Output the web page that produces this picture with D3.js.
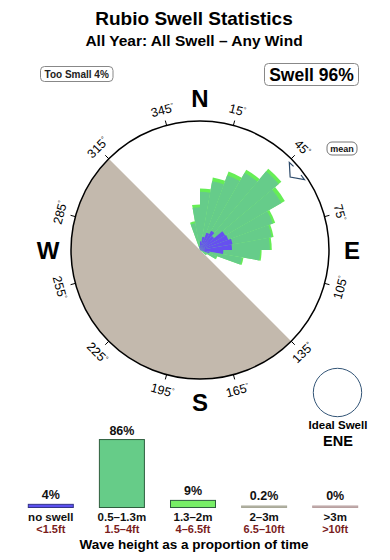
<!DOCTYPE html>
<html><head><meta charset="utf-8">
<script src="https://cdn.jsdelivr.net/npm/d3@7"></script>
<style>body{margin:0;background:#fff}svg{display:block;font-family:"Liberation Sans",Arial,Helvetica,sans-serif}</style>
</head><body><svg id="c" width="390" height="560"></svg>
<script>
// ---------- data ----------
const titleText = "Rubio Swell Statistics";
const subtitleText = "All Year: All Swell – Any Wind";
const tooSmallLabel = "Too Small 4%";
const swellLabel = "Swell 96%";
const compassLetters = ["N", "E", "S", "W"];
const compassAngles = [0, 90, 180, 270];
const tickDegrees = [15, 45, 75, 105, 135, 165, 195, 225, 255, 285, 315, 345];
// direction bins (centre, degrees), 10 degrees wide
const binCenters = [-15, -5, 5, 15, 25, 35, 45, 55, 65, 75, 85, 95, 105, 115, 125];
// percent of time per direction bin
const noSwellPct = [0, 0.4, 0.9, 1.4, 1.9, 2.3, 1.9, 3.0, 3.1, 3.4, 3.3, 2.4, 1.0, 0, 0];
const smallPct   = [2.8, 4.0, 5.1, 5.8, 6.3, 6.9, 8.7, 6.7, 4.9, 4.1, 3.9, 3.8, 3.4, 1.8, 0.8];
const mediumPct  = [0.2, 0.3, 0.35, 0.4, 0.4, 0.35, 0.35, 0.4, 0.25, 0.2, 0.2, 0.15, 0.15, 0.1, 0];
const meanDirection = 51;
const landFrom = 135, landTo = 315;
const meanLabel = "mean";
const idealLabel = "Ideal Swell", idealDir = "ENE";
const heightCats = ["no swell", "0.5–1.3m", "1.3–2m", "2–3m", ">3m"];
const feetCats = ["<1.5ft", "1.5–4ft", "4–6.5ft", "6.5–10ft", ">10ft"];
const heightPct = [4, 86, 9, 0.2, 0];
const heightPctLabels = ["4%", "86%", "9%", "0.2%", "0%"];
const axisTitle = "Wave height as a proportion of time";

// ---------- drawing ----------
const svg = d3.select("#c");
const rad = d => d * Math.PI / 180;

svg.append("text").attr("x", 194).attr("y", 25).attr("text-anchor", "middle")
  .attr("font-size", 19).attr("font-weight", "bold").text(titleText);
svg.append("text").attr("x", 194).attr("y", 46).attr("text-anchor", "middle")
  .attr("font-size", 15.5).attr("font-weight", "bold").text(subtitleText);

// boxes
svg.append("rect").attr("x", 40.5).attr("y", 66.5).attr("width", 72.5).attr("height", 15).attr("rx", 4)
  .attr("fill", "#fff").attr("stroke", "#888");
svg.append("text").attr("x", 76.7).attr("y", 78).attr("text-anchor", "middle")
  .attr("font-size", 10).attr("font-weight", "bold").attr("fill", "#222").text(tooSmallLabel);
svg.append("rect").attr("x", 264.5).attr("y", 63.5).attr("width", 94).attr("height", 22).attr("rx", 4)
  .attr("fill", "#fff").attr("stroke", "#888");
svg.append("text").attr("x", 311.5).attr("y", 81).attr("text-anchor", "middle")
  .attr("font-size", 17.5).attr("font-weight", "bold").text(swellLabel);

// rose
const cx = 200, cy = 250, R = 129;
const g = svg.append("g").attr("transform", `translate(${cx},${cy})`);
const rScale = d3.scaleLinear().domain([0, 13.3]).range([0, R]);
const arc = d3.arc().innerRadius(0);

g.append("path").attr("d", arc({outerRadius: R, startAngle: rad(landFrom), endAngle: rad(landTo)}))
  .attr("fill", "#c3b9ad");

const rows = binCenters.map((c, i) => ({
  c, b: noSwellPct[i], s: smallPct[i], m: mediumPct[i]
}));
const layers = [
  {key: d => d.b + d.s + d.m, fill: "#66ee55"},
  {key: d => d.b + d.s, fill: "#66cc8a"},
  {key: d => d.b, fill: "#6650f0"}
];
layers.forEach(L => {
  g.selectAll(null).data(rows.filter(d => L.key(d) > 0)).join("path")
    .attr("d", d => arc({outerRadius: rScale(L.key(d)), startAngle: rad(d.c - 5), endAngle: rad(d.c + 5)}))
    .attr("fill", L.fill);
});

g.append("circle").attr("r", R).attr("fill", "none").attr("stroke", "#000").attr("stroke-width", 1.5);

// ticks + labels
const pol = (a, r) => [r * Math.sin(rad(a)), -r * Math.cos(rad(a))];
tickDegrees.forEach(a => {
  const p1 = pol(a, R), p2 = pol(a, R + 5);
  g.append("line").attr("x1", p1[0]).attr("y1", p1[1]).attr("x2", p2[0]).attr("y2", p2[1])
    .attr("stroke", "#000").attr("stroke-width", 1);
  const pl = pol(a, R + 16);
  const rot = (a > 90 && a < 270) ? a - 180 : (a > 270 ? a - 360 : a);
  const t = g.append("text").attr("transform", `translate(${pl[0]},${pl[1]}) rotate(${rot})`)
    .attr("text-anchor", "middle").attr("dy", "0.36em").attr("font-size", 12.5).text(a);
  t.append("tspan").attr("font-size", 7).attr("dy", "-0.6em").text("°");
});

compassLetters.forEach((L, i) => {
  const p = pol(compassAngles[i], R + 23);
  g.append("text").attr("x", p[0]).attr("y", p[1]).attr("dy", "0.36em").attr("text-anchor", "middle")
    .attr("font-size", 24).attr("font-weight", "bold").text(L);
});

// mean marker (open chevron pointing to centre)
const meanShape = [[-2.8, 125.5], [-5.4, 125], [0, 116], [5, 126], [2.4, 125.8]];
g.append("path").attr("d", "M" + meanShape.map(([da, r]) => pol(meanDirection + da, r).join(",")).join("L"))
  .attr("fill", "none").attr("stroke", "#2d4a6a").attr("stroke-width", 1.2).attr("stroke-linejoin", "miter");
svg.append("rect").attr("x", 327).attr("y", 142).attr("width", 30).attr("height", 13).attr("rx", 5)
  .attr("fill", "#fff").attr("stroke", "#777");
svg.append("text").attr("x", 342).attr("y", 151.5).attr("text-anchor", "middle")
  .attr("font-size", 9).attr("font-weight", "bold").attr("fill", "#111").text(meanLabel);

// ideal swell
svg.append("circle").attr("cx", 337.5).attr("cy", 392.5).attr("r", 24.2)
  .attr("fill", "#fff").attr("stroke", "#335577").attr("stroke-width", 1);
svg.append("text").attr("x", 338).attr("y", 429).attr("text-anchor", "middle")
  .attr("font-size", 11.5).attr("font-weight", "bold").text(idealLabel);
svg.append("text").attr("x", 338).attr("y", 446).attr("text-anchor", "middle")
  .attr("font-size", 14.5).attr("font-weight", "bold").text(idealDir);

// histogram
const x = d3.scaleBand().domain(heightCats).range([15.25, 370.75]).paddingInner(0.367).paddingOuter(0.1835);
const y = d3.scaleLinear().domain([0, 100]).range([507.5, 428.5]);
const barFill = ["#5b50f0", "#66cc88", "#77ee66", "#b9b9a8", "#c8b4b4"];
const barStroke = ["#333388", "#2e5e3e", "#2e5e3e", "#a8a898", "#b8a0a0"];
heightCats.forEach((c, i) => {
  const top = y(heightPct[i]);
  const h = Math.max(y(0) - top, 1.5);
  svg.append("rect").attr("x", x(c)).attr("y", y(0) - h).attr("width", x.bandwidth()).attr("height", h)
    .attr("fill", barFill[i]).attr("stroke", barStroke[i]).attr("stroke-width", 1);
  const xc = x(c) + x.bandwidth() / 2;
  svg.append("text").attr("x", xc).attr("y", Math.min(top, y(0) - 3) - 5).attr("text-anchor", "middle")
    .attr("font-size", 12.5).attr("font-weight", "bold").attr("fill", "#111").text(heightPctLabels[i]);
  svg.append("text").attr("x", xc).attr("y", 520.5).attr("text-anchor", "middle")
    .attr("font-size", 11.5).attr("font-weight", "bold").attr("fill", "#111").text(c);
  svg.append("text").attr("x", xc).attr("y", 533).attr("text-anchor", "middle")
    .attr("font-size", 11).attr("font-weight", "bold").attr("fill", "#7a1c1c").text(feetCats[i]);
});
svg.append("text").attr("x", 194).attr("y", 548.5).attr("text-anchor", "middle")
  .attr("font-size", 13.5).attr("font-weight", "bold").text(axisTitle);
</script></body></html>
